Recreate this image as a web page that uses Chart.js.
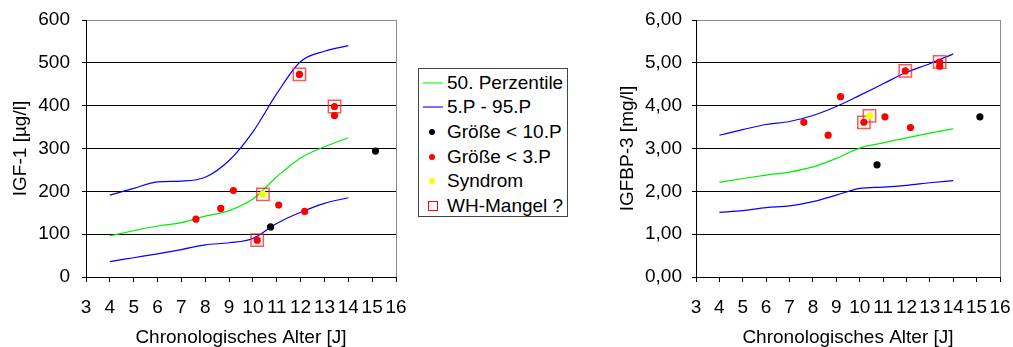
<!DOCTYPE html>
<html>
<head>
<meta charset="utf-8">
<script src="https://cdn.jsdelivr.net/npm/chart.js@4.4.1/dist/chart.umd.min.js"></script>
<style>
  body { margin: 0; background: #fff; width: 1013px; height: 347px; overflow: hidden; position: relative;
         font-family: "Liberation Sans", Arial, sans-serif; }
  canvas { position: absolute; top: 0; }
  #cIgf { left: 0; }
  #cBp { left: 610px; }
  #legend { position: absolute; left: 418px; top: 68px; width: 150px; height: 149px;
            border: 1px solid #444; box-sizing: border-box; }
  #legend .row { position: absolute; left: 0; width: 146px; height: 22px; }
  #legend .txt { position: absolute; left: 28px; top: 0; line-height: 22px; font-size: 19px; color: #000; white-space: nowrap; }
  #legend .sym { position: absolute; }
</style>
</head>
<body>
<canvas id="cIgf" width="410" height="349"></canvas>
<div id="legend"></div>
<canvas id="cBp" width="403" height="349"></canvas>
<script>
// percentile curves, sampled at whole years
const AGES = [4, 5, 6, 7, 8, 9, 10, 11, 12, 13, 14];
const IGF_P50 = [96, 108, 119, 127, 142, 155, 182, 234, 278, 304, 325];
const IGF_P5  = [36, 45, 54, 64, 75, 80, 90, 125, 151, 172, 185];
const IGF_P95 = [191, 207, 222, 224, 233, 272, 339, 428, 503, 527, 540];
const BP_P50 = [2.21, 2.30, 2.38, 2.45, 2.57, 2.77, 3.01, 3.13, 3.25, 3.36, 3.46];
const BP_P5  = [1.51, 1.55, 1.62, 1.66, 1.76, 1.91, 2.07, 2.10, 2.14, 2.20, 2.25];
const BP_P95 = [3.31, 3.44, 3.56, 3.63, 3.77, 3.98, 4.24, 4.51, 4.78, 4.98, 5.21];

// patients: Größe < 10.P
const LT10_AGE = [10.74, 15.14];
const LT10_IGF = [117, 294];
const LT10_BP  = [2.62, 3.74];
// patients: Größe < 3.P
const LT3_AGE = [7.61, 8.65, 9.18, 10.18, 11.08, 12.17, 11.95, 13.42, 13.42];
const LT3_IGF = [135, 160, 202, 86, 168, 153, 473, 398, 377];
const LT3_BP  = [3.61, 3.31, 4.21, 3.61, 3.74, 3.49, 4.81, 5.02, 4.92];
// Syndrom
const SYN_AGE = [10.42];
const SYN_IGF = [193];
const SYN_BP  = [3.76];
// WH-Mangel ? (marked with a square)
const WH_AGE = [10.18, 10.42, 11.95, 13.42];
const WH_IGF = [86, 193, 473, 398];
const WH_BP  = [3.61, 3.76, 4.81, 5.02];

const X_MIN = 3, X_MAX = 16;
const LEGEND = [
  { label: "50. Perzentile", kind: "line", color: "#00ff00" },
  { label: "5.P - 95.P", kind: "line", color: "#0000ff" },
  { label: "Größe < 10.P", kind: "dot", color: "#000" },
  { label: "Größe < 3.P", kind: "dot", color: "#ff0000" },
  { label: "Syndrom", kind: "dot", color: "#ffff00" },
  { label: "WH-Mangel ?", kind: "square", color: "#ff0000" },
];

const FONT = { family: "'Liberation Sans', Arial, sans-serif", size: 19 };
const pts = (xs, ys) => xs.map((x, i) => ({ x, y: ys[i] }));

const curve = (data, color) => ({
  data, showLine: true, borderColor: color, borderWidth: 1.2, pointRadius: 0,
  cubicInterpolationMode: "monotone", fill: false, order: 3,
});
const dots = (data, color) => ({
  data, showLine: false, pointRadius: 3.6, pointBackgroundColor: color, pointBorderWidth: 0, order: 1,
});
const boxes = data => ({
  data, showLine: false, pointStyle: "rect", pointRadius: 8.7, pointBorderWidth: 1.5,
  pointBorderColor: "rgba(255,30,30,0.75)", pointBackgroundColor: "rgba(0,0,0,0)", order: 2,
});

// grey right edge of the plot frame
const framePlugin = {
  id: "frame",
  beforeDatasetsDraw(chart) {
    const { ctx, chartArea: a } = chart;
    const x = Math.round(a.right) + 0.5;
    ctx.save();
    ctx.strokeStyle = "#8a8a8a";
    ctx.lineWidth = 1;
    ctx.beginPath();
    ctx.moveTo(x, a.top);
    ctx.lineTo(x, a.bottom);
    ctx.stroke();
    ctx.restore();
  },
};

function makeChart(canvas, o) {
  return new Chart(canvas, {
    type: "scatter",
    data: {
      datasets: [
        curve(pts(AGES, o.p50), "#00ee00"),
        curve(pts(AGES, o.p95), "#0000ff"),
        curve(pts(AGES, o.p5), "#0000ff"),
        boxes(pts(WH_AGE, o.wh)),
        dots(pts(LT10_AGE, o.lt10), "#000"),
        dots(pts(LT3_AGE, o.lt3), "#ff0000"),
        dots(pts(SYN_AGE, o.syn), "#ffff00"),
      ],
    },
    options: {
      responsive: false, animation: false, devicePixelRatio: 1,
      layout: { padding: { top: 20, right: o.padRight, bottom: 0, left: 0 } },
      plugins: { legend: { display: false }, tooltip: { enabled: false } },
      scales: {
        x: {
          type: "linear", min: X_MIN, max: X_MAX,
          ticks: { stepSize: 1, autoSkip: false, minRotation: 0, maxRotation: 0, padding: 14, font: FONT, color: "#000" },
          grid: { drawOnChartArea: false, drawTicks: true, tickLength: 5, color: "#000" },
          border: { color: "#000", width: 1 },
          title: { display: true, text: "Chronologisches Alter [J]", font: FONT, color: "#000", padding: { top: 0, bottom: 0 } },
          // fixed axis band; end labels may overhang into the outer margin
          afterFit(s) { s.height = 72; s.paddingLeft = 0; s.paddingRight = 0; },
        },
        y: {
          min: 0, max: o.yMax,
          ticks: { stepSize: o.yStep, padding: o.tickPad, font: FONT, color: "#000", callback: o.fmt },
          grid: { tickLength: 4, tickColor: "#000", color: c => (c.tick && c.tick.value === o.yMax ? "#8a8a8a" : "#000") },
          border: { color: "#000", width: 1 },
          title: { display: true, text: o.yTitle, font: FONT, color: "#000", padding: { top: o.titlePad, bottom: 0 } },
          afterFit(s) { s.width = 86; s.paddingTop = 0; s.paddingBottom = 0; },
        },
      },
    },
    plugins: [framePlugin],
  });
}

makeChart(document.getElementById("cIgf"), {
  p50: IGF_P50, p5: IGF_P5, p95: IGF_P95, lt10: LT10_IGF, lt3: LT3_IGF, syn: SYN_IGF, wh: WH_IGF,
  yMax: 600, yStep: 100, fmt: v => String(v), yTitle: "IGF-1 [µg/l]",
  padRight: 14, tickPad: 12, titlePad: 9,
});

makeChart(document.getElementById("cBp"), {
  p50: BP_P50, p5: BP_P5, p95: BP_P95, lt10: LT10_BP, lt3: LT3_BP, syn: SYN_BP, wh: WH_BP,
  yMax: 6, yStep: 1, fmt: v => v.toFixed(2).replace(".", ","), yTitle: "IGFBP-3 [mg/l]",
  padRight: 13, tickPad: 10, titlePad: 6.6,
});

// legend box between the two charts
const lg = document.getElementById("legend");
LEGEND.forEach((it, i) => {
  const row = document.createElement("div");
  row.className = "row";
  row.style.top = (2.5 + i * 24.7) + "px";
  const sym = document.createElement("div");
  sym.className = "sym";
  if (it.kind === "line") {
    Object.assign(sym.style, { left: "4px", top: "10px", width: "20px", height: "2px", background: it.color, opacity: "0.55" });
  } else if (it.kind === "dot") {
    Object.assign(sym.style, { left: "10px", top: "8px", width: "6px", height: "6px", borderRadius: "50%", background: it.color });
  } else {
    Object.assign(sym.style, { left: "9px", top: "6px", width: "10px", height: "10px", border: "1px solid " + it.color, boxSizing: "border-box" });
  }
  const txt = document.createElement("span");
  txt.className = "txt";
  txt.textContent = it.label;
  row.appendChild(sym);
  row.appendChild(txt);
  lg.appendChild(row);
});
</script>
</body>
</html>
